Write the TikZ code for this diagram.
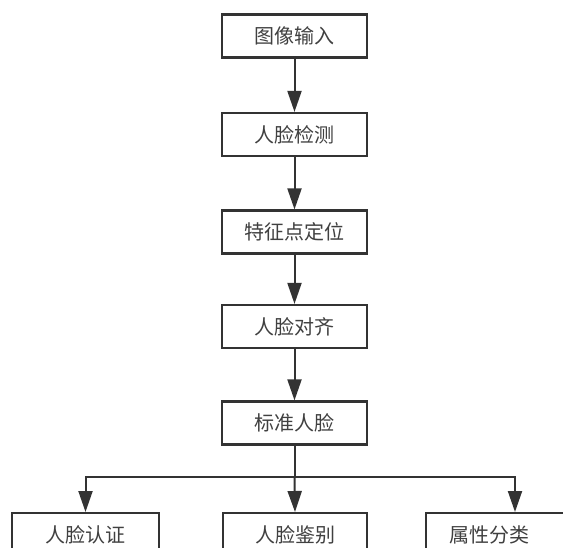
\documentclass[tikz,border=0pt]{standalone}
\usepackage{fontspec}
\newfontfamily\cjk{Noto Sans CJK SC}
\usetikzlibrary{arrows.meta}
\definecolor{ink}{HTML}{333333}
\definecolor{txt}{HTML}{404040}
\tikzset{
  x=1pt, y=1pt,
  box/.style={draw=ink, line width=2.2pt, fill=white, minimum width=145pt, minimum height=43pt,
    inner sep=0pt, font=\cjk\fontsize{20}{24}\selectfont, text=txt},
  conn/.style={draw=ink, line width=2pt, -{Triangle[length=21pt,width=14pt]}},
  plain/.style={draw=ink, line width=2pt}
}
\begin{document}
\begin{tikzpicture}
\useasboundingbox (0,0) rectangle (563,-547);
\clip (0,0) rectangle (563,-547);
\node[box] (n1) at (294.5,-36) {图像输入};
\node[box] (n2) at (294.5,-134.5) {人脸检测};
\node[box] (n3) at (294.5,-232) {特征点定位};
\node[box] (n4) at (294.5,-326.5) {人脸对齐};
\node[box] (n5) at (294.5,-423) {标准人脸};
\node[box, minimum width=147pt, anchor=north] (b1) at (85.5,-512) {人脸认证};
\node[box, minimum width=144pt, anchor=north] (b2) at (295,-512) {人脸鉴别};
\node[box, minimum width=147pt, anchor=north west] (b3) at (425,-512) {\hspace*{-20pt}属性分类};
\coordinate (j) at (294.5,-477);
\coordinate (r) at (515,-512);
\draw[conn] (n1) -- (n2);
\draw[conn] (n2) -- (n3);
\draw[conn] (n3) -- (n4);
\draw[conn] (n4) -- (n5);
\draw[plain] (n5.south) -- (j);
\draw[conn] (j) -- (b2.north);
\draw[conn] (j) -| (b1.north);
\draw[conn] (j) -| (r);
\end{tikzpicture}
\end{document}
